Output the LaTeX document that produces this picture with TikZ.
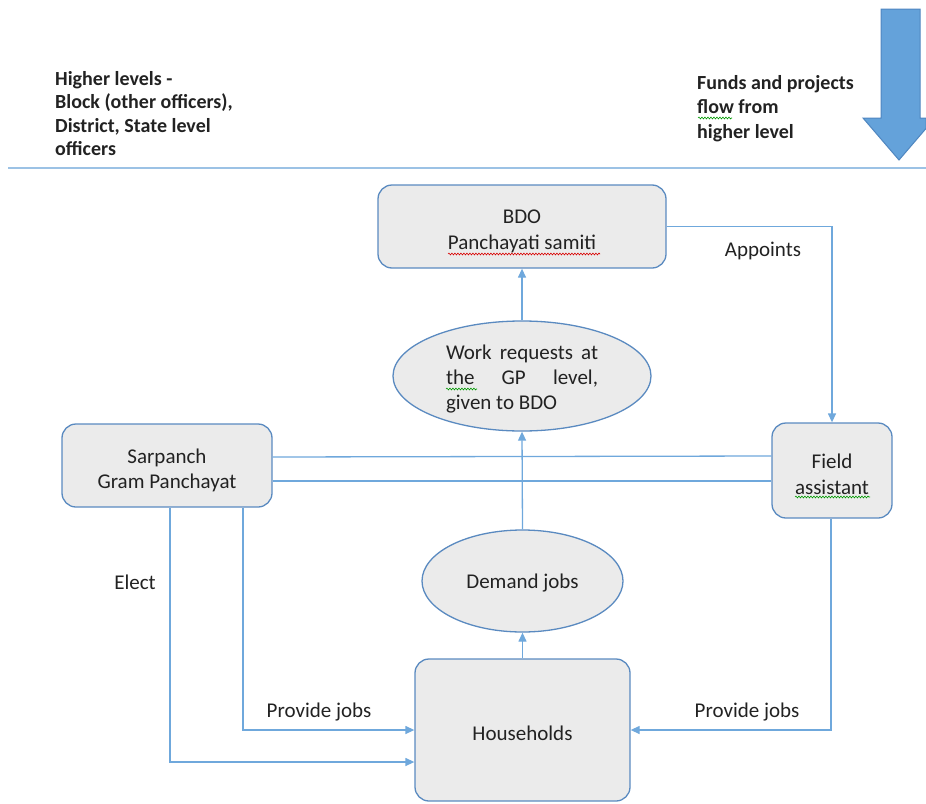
\documentclass[tikz,border=0pt]{standalone}
\usepackage{fontspec}
\setmainfont{Carlito}
\usetikzlibrary{arrows.meta,shapes.geometric,decorations.pathmorphing}
\definecolor{lineblue}{HTML}{6FA8DC}
\definecolor{boxedge}{HTML}{5A8AC0}
\definecolor{boxfill}{HTML}{EBEBEB}
\definecolor{bigfill}{HTML}{64A2DA}
\definecolor{bigedge}{HTML}{4F86C0}
\definecolor{sepline}{HTML}{9CC2E5}
\definecolor{txt}{HTML}{222222}
\begin{document}
\begin{tikzpicture}[x=1pt,y=-1pt,
  every node/.style={text=txt},
  box/.style={draw=boxedge, fill=boxfill, rounded corners=14pt, line width=1.3pt, inner sep=0pt},
  oval/.style={ellipse, draw=boxedge, fill=boxfill, line width=1.3pt, inner sep=0pt},
  btext/.style={align=center, inner sep=0pt, font=\fontsize{21}{26.5}\selectfont},
  conn/.style={draw=lineblue, line width=1.3pt},
  arr/.style={conn, -{Triangle[length=9pt,width=8pt]}},
  lbl/.style={font=\fontsize{21}{24}\selectfont, inner sep=0pt},
  head/.style={font=\bfseries\fontsize{20}{24}\selectfont, anchor=base west, inner sep=0pt},
  wavy/.style={decorate, decoration={snake, amplitude=0.9pt, segment length=3pt}, line width=0.6pt}
]
\useasboundingbox (0,0) rectangle (926,803);

% header texts
\node[head] (hl1) at (55,85) {Higher levels -};
\node[head] (hl2) at (55,108.5) {Block (other officers),};
\node[head] (hl3) at (55,132) {District, State level};
\node[head] (hl4) at (55,155.5) {officers};
\node[head] (fd1) at (697,89) {Funds and projects};
\node[head] (fd2) at (697,113.5) {flow from};
\node[head] (fd3) at (697,138) {higher level};
\draw[wavy, green!60!black] (698,118) -- (732,118);

% big arrow
\draw[fill=bigfill, draw=bigedge, line width=1pt]
  (881,9) -- (920,9) -- (920,118) -- (926,118) -- (926,128.5) -- (899,160)
  -- (863,118) -- (881,118) -- cycle;

% separator
\draw[draw=sepline, line width=1.5pt] (8,168) -- (926,168);

% shapes
\node[box, minimum width=288pt, minimum height=83pt] (bdo) at (522,226.5) {};
\node[oval, minimum width=258pt, minimum height=110pt] (wr) at (522,376) {};
\node[box, minimum width=210pt, minimum height=83pt] (sp) at (167,465.5) {};
\node[box, minimum width=120pt, minimum height=95pt] (fa) at (832,470.5) {};
\node[oval, minimum width=201pt, minimum height=102pt] (dj) at (522.5,581) {};
\node[box, minimum width=215pt, minimum height=142pt] (hh) at (522.5,730) {};

% texts in shapes
\node[btext] (bdot) at ([yshift=-5pt]bdo.center) {BDO\\Panchayati samiti};
\draw[wavy, red!85!black] (448,254) -- (600,254);
\node[btext, font=\fontsize{21}{25}\selectfont] (wrt) at ([yshift=-3pt]wr.center)
  {\makebox[152pt][s]{Work requests at}\\
   \makebox[152pt][s]{the GP level,}\\
   \makebox[152pt][l]{given to BDO}};
\draw[wavy, green!60!black] (446,389) -- (477,389);
\node[btext, font=\fontsize{21}{25}\selectfont] (spt) at ([yshift=-5pt]sp.center) {Sarpanch\\Gram Panchayat};
\node[btext] (fat) at ([yshift=-4pt]fa.center) {Field\\assistant};
\draw[wavy, green!60!black] (795,497) -- (870,497);
\node[btext] (djt) at ([yshift=-2pt]dj.center) {Demand jobs};
\node[btext] (hht) at ([yshift=-3pt]hh.center) {Households};

% connectors
\draw[arr] (hh.north) -- (dj.south);
\draw[arr] (dj.north) -- (wr.south);
\draw[arr] (wr.north) -- (bdo.south);
\draw[arr] (bdo.east) -| (fa.north);
\draw[conn] (sp.east |- 0,457) -- (fa.west |- 0,456);
\draw[conn] (sp.east |- 0,481) -- (fa.west |- 0,481);
\draw[arr] (sp.south -| 170,0) |- (hh.west |- 0,762);
\draw[arr] (sp.south -| 243,0) |- (hh.west);
\draw[arr] (fa.south -| 831,0) |- (hh.east);

% labels
\node[lbl] (lapp) at (763,251) {Appoints};
\node[lbl] (lel) at (135,582) {Elect};
\node[lbl] (lpj1) at (319,712) {Provide jobs};
\node[lbl] (lpj2) at (747,712) {Provide jobs};
\end{tikzpicture}
\end{document}
